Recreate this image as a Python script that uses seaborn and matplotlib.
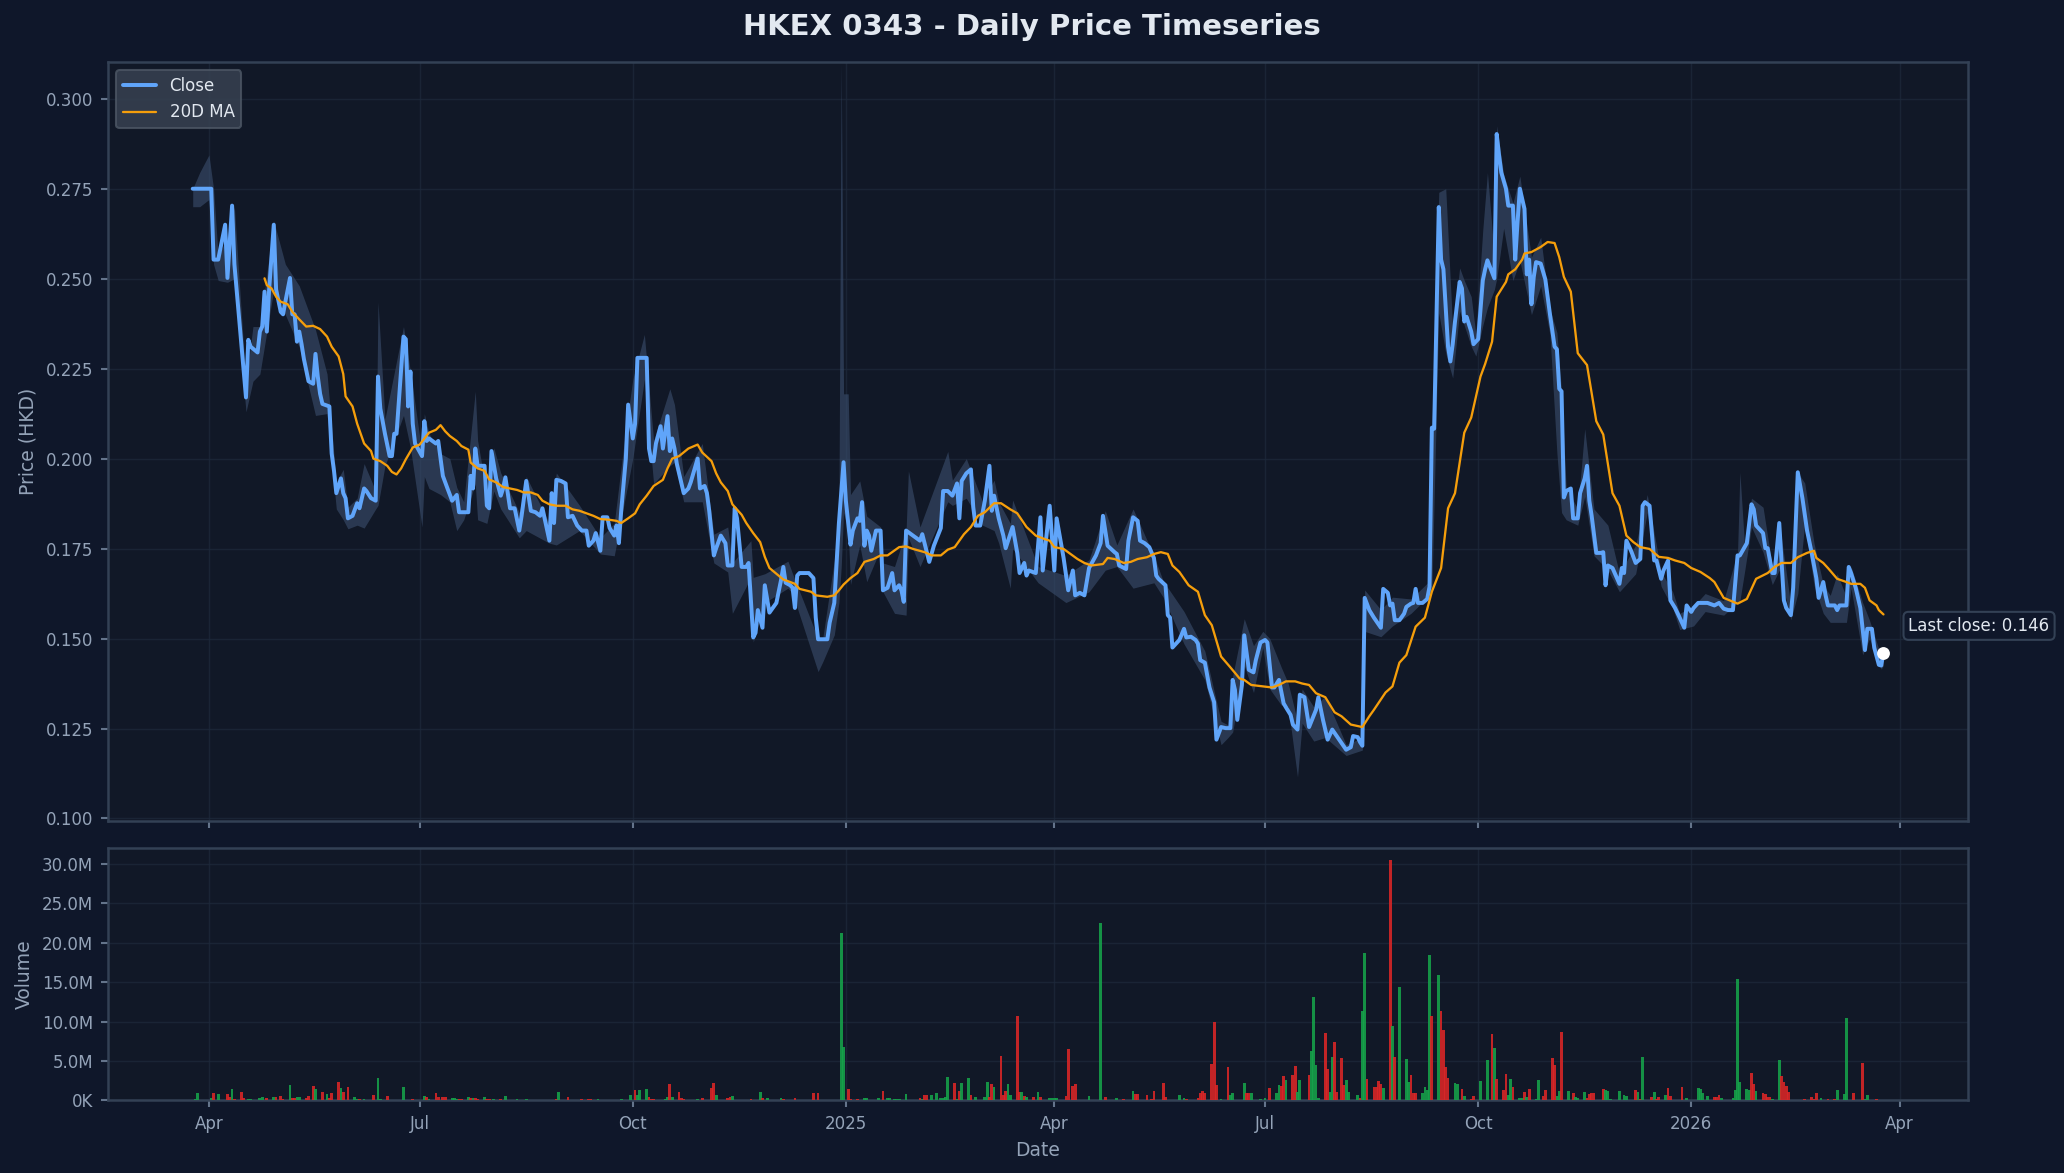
import numpy as np
import pandas as pd
import matplotlib
matplotlib.use("Agg")
import matplotlib.pyplot as plt
import matplotlib.dates as mdates
from matplotlib.ticker import FuncFormatter
import seaborn as sns

# ---------------- data (day offsets from 2024-04-01) ----------------
BASE = pd.Timestamp("2024-04-01")
TITLE = "HKEX 0343 - Daily Price Timeseries"

close_obs = [
    (-7, 0.275), (1, 0.275), (2, 0.2553), (4, 0.2553), (7, 0.265), (8, 0.2502), (10, 0.2703), (11, 0.254),
    (16, 0.217), (17, 0.233), (18, 0.2311), (21, 0.2295), (22, 0.2353), (23, 0.2367), (24, 0.2464), (25, 0.2353),
    (26, 0.247), (28, 0.265), (29, 0.247), (31, 0.2408), (32, 0.2401), (33, 0.2436), (35, 0.2502), (36, 0.2401),
    (37, 0.2401), (38, 0.2325), (39, 0.2353), (40, 0.2318), (41, 0.2277), (43, 0.2215), (45, 0.2208), (46, 0.2291),
    (47, 0.2228), (48, 0.218), (49, 0.2152), (52, 0.2145), (53, 0.2014), (54, 0.1966), (55, 0.1904), (57, 0.1945),
    (58, 0.1904), (59, 0.189), (60, 0.1834), (62, 0.1841), (64, 0.1876), (65, 0.1862), (67, 0.1917), (68, 0.191),
    (70, 0.189), (72, 0.1883), (73, 0.2228), (74, 0.2139), (76, 0.2069), (78, 0.2007), (79, 0.2007), (80, 0.2069),
    (81, 0.2069), (84, 0.2339), (85, 0.2332), (86, 0.2145), (87, 0.2242), (88, 0.2097), (89, 0.2042), (92, 0.2007),
    (93, 0.2104), (94, 0.2049), (95, 0.2056), (98, 0.2042), (99, 0.2049),
    (101, 0.1952), (103, 0.1917), (105, 0.1883), (107, 0.1899), (108, 0.1851), (112, 0.1851), (113, 0.1952),
    (114, 0.1917), (115, 0.2028), (116, 0.198), (119, 0.198), (120, 0.1869), (121, 0.1862), (122, 0.2021),
    (124, 0.1945), (126, 0.1897), (127, 0.1917), (128, 0.1948), (130, 0.1862), (132, 0.1862), (134, 0.18),
    (135, 0.1841), (137, 0.1938), (139, 0.1855), (141, 0.1851), (143, 0.1841), (144, 0.1862), (147, 0.1772),
    (148, 0.1904), (149, 0.1821), (150, 0.1941), (152, 0.1938), (154, 0.1931), (155, 0.1837), (157, 0.1841),
    (159, 0.1814), (161, 0.18), (163, 0.18), (164, 0.1758), (166, 0.1772), (167, 0.1793), (169, 0.1744),
    (170, 0.1837), (172, 0.1837), (173, 0.1807), (175, 0.1786), (176, 0.1814), (177, 0.1765), (178, 0.1855),
    (180, 0.2), (181, 0.215), (183, 0.2056), (184, 0.2097), (185, 0.228), (189, 0.228), (190, 0.2028),
    (191, 0.1993), (192, 0.1993), (193, 0.2042), (195, 0.209), (196, 0.2028), (198, 0.2118), (199, 0.2021),
    (200, 0.2056), (201, 0.2028), (202, 0.1986), (205, 0.1904), (207, 0.1917), (208, 0.1934), (211, 0.2),
    (212, 0.1917), (214, 0.1924), (215, 0.1904), (216, 0.1855), (218, 0.1731), (219, 0.1751), (221, 0.1786),
    (223, 0.1765), (224, 0.1703), (226, 0.1703), (227, 0.1862), (228, 0.1834), (230, 0.1699), (232, 0.1699),
    (233, 0.171), (235, 0.1503), (236, 0.1516), (237, 0.1579), (239, 0.153), (240, 0.1648), (242, 0.1572),
    (245, 0.1599), (247, 0.1662), (248, 0.1699), (249, 0.1655), (251, 0.1648), (252, 0.1641), (253, 0.1585),
    (254, 0.1675), (255, 0.1682),
    (259, 0.1682), (261, 0.1668), (262, 0.1558), (263, 0.1498), (267, 0.1498), (268, 0.1544), (270, 0.1599),
    (272, 0.1821), (274, 0.199), (275, 0.1883), (277, 0.1761), (278, 0.18), (280, 0.1834), (281, 0.1827),
    (282, 0.1879), (283, 0.1758), (284, 0.18), (285, 0.1786), (286, 0.1744), (288, 0.18), (290, 0.18),
    (291, 0.1634), (293, 0.1641), (295, 0.1682), (296, 0.1634), (298, 0.1648), (299, 0.1634), (300, 0.1602),
    (301, 0.18), (304, 0.1786), (307, 0.1772), (308, 0.179), (311, 0.1713), (313, 0.1758), (316, 0.1807),
    (317, 0.191), (319, 0.191), (321, 0.1897), (323, 0.1931), (324, 0.1834), (325, 0.1938), (327, 0.1959),
    (329, 0.197), (330, 0.1865), (331, 0.1814), (333, 0.1814), (335, 0.1883), (337, 0.198), (338, 0.1855),
    (339, 0.1897), (341, 0.1834), (343, 0.1786), (344, 0.1751), (347, 0.181), (349, 0.1738), (350, 0.1682),
    (352, 0.171), (353, 0.1675), (354, 0.1689), (357, 0.1682), (359, 0.1837), (360, 0.1689), (362, 0.181),
    (363, 0.1869), (365, 0.1689), (366, 0.1834), (369, 0.1724), (371, 0.1634), (373, 0.1689), (374, 0.162),
    (376, 0.1627), (378, 0.162), (380, 0.1696), (383, 0.1731), (385, 0.1765), (386, 0.1841), (388, 0.1758),
    (391, 0.174), (392, 0.1735), (393, 0.1703), (396, 0.1693), (397, 0.1772), (399, 0.1837), (401, 0.1827),
    (402, 0.1772),
    (404, 0.1765), (406, 0.1754), (408, 0.1724), (409, 0.1675), (410, 0.1666), (413, 0.1648), (414, 0.1565),
    (415, 0.1558), (416, 0.1475), (419, 0.1496), (421, 0.1527), (422, 0.1503), (424, 0.1505), (426, 0.1496),
    (427, 0.1486), (428, 0.144), (430, 0.1433), (432, 0.1364), (434, 0.1323), (435, 0.1219), (437, 0.1254),
    (439, 0.1251), (441, 0.1251), (442, 0.1385), (443, 0.1357), (444, 0.1274), (446, 0.1371), (447, 0.1509),
    (449, 0.1413), (451, 0.1406), (452, 0.144), (454, 0.1489), (456, 0.1496), (457, 0.1489), (459, 0.1364),
    (460, 0.1364), (462, 0.1385), (464, 0.132), (465, 0.1309), (467, 0.1288), (468, 0.1261), (470, 0.1247),
    (471, 0.1344), (473, 0.1337), (475, 0.1254), (478, 0.1302), (479, 0.1337), (481, 0.1274), (483, 0.1219),
    (485, 0.1247), (488, 0.1219), (491, 0.1191), (493, 0.1198), (494, 0.1229), (496, 0.1226), (497, 0.1212),
    (498, 0.1202), (499, 0.1613), (501, 0.1579), (503, 0.1558), (506, 0.153), (507, 0.1638), (509, 0.1627),
    (510, 0.1592), (511, 0.1597), (512, 0.1551), (514, 0.1551), (516, 0.1569), (517, 0.1588), (519, 0.1597),
    (520, 0.1599), (521, 0.1638), (522, 0.1599), (524, 0.1599), (526, 0.161), (527, 0.1644), (528, 0.2086),
    (529, 0.2083), (531, 0.2699), (532, 0.2553), (533, 0.2526), (535, 0.2311), (536, 0.227), (537, 0.2318),
    (538, 0.2381), (540, 0.2491), (541, 0.2473), (542, 0.2381), (543, 0.2394), (545, 0.2353), (546, 0.2318),
    (548, 0.2332),
    (550, 0.2495), (551, 0.2526), (552, 0.2551), (555, 0.2501), (556, 0.2902), (557, 0.2844), (558, 0.2795),
    (560, 0.275), (561, 0.2703), (563, 0.2703), (564, 0.2553), (565, 0.2657), (566, 0.275), (568, 0.2694),
    (569, 0.2512), (570, 0.2553), (571, 0.2429), (572, 0.2505), (573, 0.2546), (575, 0.2542), (577, 0.2498),
    (579, 0.2401), (581, 0.2311), (582, 0.2304), (583, 0.2194), (584, 0.2187), (585, 0.1892), (586, 0.191),
    (588, 0.1917), (589, 0.1834), (591, 0.1834), (592, 0.1904), (594, 0.1945), (595, 0.198), (596, 0.1883),
    (597, 0.1841), (599, 0.1738), (601, 0.1738), (602, 0.174), (603, 0.1648), (604, 0.1703), (606, 0.1696),
    (609, 0.1652), (610, 0.1696), (611, 0.1682), (612, 0.1772), (614, 0.1744), (616, 0.171), (618, 0.1721),
    (619, 0.1869), (620, 0.1879), (622, 0.1869), (624, 0.1717), (625, 0.1717), (627, 0.1666), (628, 0.1689),
    (630, 0.1717), (631, 0.1606), (633, 0.1585), (635, 0.1558), (637, 0.153), (638, 0.1592), (640, 0.1574),
    (641, 0.1585), (643, 0.1599), (647, 0.1599), (650, 0.1592), (652, 0.1599), (654, 0.1583), (656, 0.1579),
    (658, 0.1579), (660, 0.1731), (661, 0.1731), (664, 0.1765), (666, 0.1873), (667, 0.1859), (668, 0.1814),
    (671, 0.1793), (672, 0.1751), (673, 0.1751), (675, 0.1682), (676, 0.1682), (678, 0.1821), (680, 0.1606),
    (681, 0.1585), (683, 0.1565), (684, 0.1641), (686, 0.1962), (688, 0.189), (690, 0.18), (692, 0.1738),
    (694, 0.1668), (695, 0.1613), (697, 0.1657), (698, 0.162), (699, 0.1592), (702, 0.1592), (703, 0.1579),
    (704, 0.1592), (707, 0.1592), (708, 0.1699), (709, 0.1682), (711, 0.1641), (713, 0.1585), (715, 0.1468),
    (716, 0.1527), (718, 0.1527), (719, 0.1475), (721, 0.1427), (722, 0.1425), (723, 0.146),
]

ma_obs = [
    (24, 0.2501), (25, 0.2482), (27, 0.2473), (29, 0.245), (31, 0.2436), (34, 0.2429), (36, 0.2408), (39, 0.2387),
    (42, 0.2367), (45, 0.2369), (48, 0.236), (51, 0.2339), (53, 0.2311), (56, 0.2284), (58, 0.2235), (59, 0.2173),
    (62, 0.2145), (64, 0.2097), (67, 0.2042), (70, 0.2021), (71, 0.2), (74, 0.1993), (77, 0.198), (79, 0.1963),
    (81, 0.1956), (83, 0.1973), (85, 0.1998), (88, 0.2031), (91, 0.2039), (95, 0.2072), (98, 0.208), (100, 0.2093),
    (102, 0.2076), (104, 0.2063), (107, 0.2049), (109, 0.2035), (112, 0.2025), (113, 0.1989), (116, 0.1973),
    (119, 0.1966), (121, 0.1942), (124, 0.1934), (127, 0.1921), (133, 0.1913), (136, 0.1906), (139, 0.1906),
    (142, 0.1899), (144, 0.1883), (147, 0.1873), (150, 0.1869), (154, 0.1869), (157, 0.1859), (160, 0.1855),
    (163, 0.1848), (166, 0.1841), (169, 0.1832), (173, 0.183), (176, 0.1827), (178, 0.1821), (181, 0.1834),
    (184, 0.1848), (186, 0.1873), (189, 0.1897), (192, 0.1924), (196, 0.1941), (198, 0.1973), (200, 0.2),
    (203, 0.2007), (207, 0.2028), (211, 0.2039), (213, 0.2017), (217, 0.1993), (219, 0.1959), (221, 0.1934),
    (224, 0.191), (226, 0.1873), (230, 0.1844), (232, 0.1821), (235, 0.1793), (238, 0.1768), (240, 0.1727),
    (242, 0.1696), (245, 0.168), (248, 0.1664), (251, 0.1657), (253, 0.1652), (255, 0.1638), (260, 0.163),
    (262, 0.162), (267, 0.1616), (270, 0.162), (272, 0.1634), (274, 0.165), (277, 0.1668), (280, 0.1682),
    (283, 0.1713), (287, 0.1721), (290, 0.1731), (293, 0.1731), (298, 0.1754), (301, 0.1756), (304, 0.1749),
    (309, 0.174), (312, 0.1731), (316, 0.1731), (319, 0.1747), (322, 0.1754), (326, 0.179), (329, 0.181),
    (332, 0.1841), (335, 0.1851), (339, 0.1876), (342, 0.1876), (346, 0.1859), (349, 0.1848), (353, 0.181),
    (357, 0.1786), (361, 0.1776), (363, 0.1772), (365, 0.1754), (369, 0.1749), (372, 0.1735), (375, 0.1721),
    (378, 0.171), (381, 0.1703), (386, 0.1707), (388, 0.1724), (391, 0.1721), (395, 0.171), (398, 0.1713),
    (401, 0.1721), (405, 0.1726), (408, 0.1735), (411, 0.174), (414, 0.1735), (416, 0.1703), (419, 0.1685),
    (423, 0.1648), (427, 0.163), (430, 0.1565), (433, 0.1537), (437, 0.145), (441, 0.142), (445, 0.1389),
    (447, 0.1385), (450, 0.1371), (455, 0.1367), (459, 0.1364), (462, 0.1371), (465, 0.1381), (469, 0.1381),
    (472, 0.1375), (475, 0.1371), (478, 0.1348), (482, 0.1337), (486, 0.1295), (489, 0.1284), (493, 0.1261),
    (498, 0.1254), (501, 0.1284), (503, 0.1302), (508, 0.135), (511, 0.1367), (514, 0.1433), (517, 0.1454),
    (521, 0.1533), (525, 0.1558), (528, 0.163), (532, 0.1696), (535, 0.1862), (538, 0.1904), (542, 0.2072),
    (545, 0.2114), (549, 0.2228), (551, 0.2263), (554, 0.2325), (556, 0.245), (560, 0.2491), (561, 0.2512),
    (564, 0.2526), (567, 0.2553), (568, 0.257), (571, 0.2574), (575, 0.2588), (578, 0.2602), (581, 0.2599),
    (583, 0.256), (585, 0.2505), (588, 0.2464), (591, 0.2293), (595, 0.226), (599, 0.2104), (602, 0.2067),
    (606, 0.1904), (609, 0.1869), (612, 0.1786), (615, 0.1768), (618, 0.1754), (622, 0.1749), (626, 0.1727),
    (630, 0.1724), (633, 0.1717), (637, 0.171), (640, 0.1696), (644, 0.1685), (648, 0.1668), (650, 0.1657),
    (654, 0.1613), (660, 0.1597), (664, 0.161), (668, 0.1666), (673, 0.1682), (676, 0.1699), (679, 0.171),
    (683, 0.171), (686, 0.1726), (690, 0.1738), (693, 0.1744), (694, 0.1724), (697, 0.171), (699, 0.1696),
    (703, 0.1666), (707, 0.1657), (709, 0.1652), (713, 0.1652), (715, 0.1641), (717, 0.1606), (720, 0.1592),
    (721, 0.1579), (723, 0.1567),
]

# (day, low, high) envelope of the daily range
band_obs = [
    (-7, 0.270, 0.275), (-4, 0.270, 0.2795), (0, 0.272, 0.2844), (2, 0.254, 0.275), (4, 0.2495, 0.256),
    (8, 0.249, 0.262), (11, 0.250, 0.270), (13, 0.235, 0.250), (16, 0.213, 0.221), (19, 0.2215, 0.2367),
    (22, 0.2235, 0.2367), (28, 0.247, 0.266), (33, 0.240, 0.254), (39, 0.231, 0.248), (46, 0.212, 0.2358),
    (51, 0.2125, 0.2235), (55, 0.186, 0.1935), (58, 0.183, 0.197), (60, 0.1805, 0.1865), (64, 0.1815, 0.189),
    (67, 0.1807, 0.1986), (72, 0.186, 0.191), (73, 0.187, 0.2435), (76, 0.198, 0.211), (84, 0.212, 0.2367),
    (87, 0.203, 0.2242), (92, 0.181, 0.2014), (93, 0.195, 0.2125), (95, 0.1917, 0.207), (100, 0.190, 0.2014),
    (104, 0.188, 0.200), (107, 0.180, 0.192), (110, 0.183, 0.188), (115, 0.193, 0.2187), (116, 0.183, 0.205),
    (120, 0.182, 0.190), (123, 0.191, 0.203), (126, 0.186, 0.196), (134, 0.178, 0.185), (137, 0.180, 0.195),
    (147, 0.1765, 0.182), (150, 0.176, 0.196), (160, 0.180, 0.187), (169, 0.1735, 0.178), (175, 0.173, 0.182),
    (180, 0.190, 0.2083), (183, 0.200, 0.222), (188, 0.222, 0.2345), (192, 0.193, 0.205), (199, 0.198, 0.2194),
    (201, 0.199, 0.215), (205, 0.188, 0.195), (213, 0.188, 0.2042), (218, 0.171, 0.179), (224, 0.1685, 0.181),
    (226, 0.157, 0.171), (234, 0.167, 0.1772), (235, 0.149, 0.167), (240, 0.160, 0.168), (250, 0.164, 0.1715),
    (252, 0.1625, 0.168), (263, 0.1408, 0.150), (265, 0.1435, 0.150), (270, 0.151, 0.1717), (272, 0.160, 0.185),
    (273, 0.170, 0.310), (274, 0.185, 0.218), (276, 0.180, 0.218), (277, 0.165, 0.190), (281, 0.176, 0.1938),
    (284, 0.1658, 0.184), (290, 0.175, 0.181), (291, 0.163, 0.171), (296, 0.157, 0.170), (301, 0.1565, 0.180),
    (302, 0.178, 0.1966), (307, 0.170, 0.181), (319, 0.188, 0.202), (321, 0.187, 0.194), (327, 0.189, 0.200),
    (334, 0.1815, 0.188), (339, 0.180, 0.194), (341, 0.1765, 0.188), (346, 0.164, 0.182), (347, 0.175, 0.1885),
    (358, 0.1655, 0.170), (370, 0.160, 0.1675), (380, 0.163, 0.1719), (387, 0.169, 0.1855), (392, 0.170, 0.176),
    (399, 0.164, 0.186), (408, 0.1655, 0.173), (412, 0.1615, 0.166), (421, 0.1485, 0.1575), (430, 0.1385, 0.1465),
    (437, 0.1205, 0.127), (440, 0.1225, 0.126), (442, 0.124, 0.1395), (447, 0.1425, 0.1555), (451, 0.135, 0.148),
    (455, 0.1475, 0.152), (458, 0.136, 0.150), (463, 0.1315, 0.142), (466, 0.131, 0.1375), (470, 0.1115, 0.127),
    (472, 0.1265, 0.136), (477, 0.1215, 0.131), (482, 0.1225, 0.134), (491, 0.1175, 0.1205), (498, 0.119, 0.1225),
    (499, 0.152, 0.1635), (506, 0.1505, 0.158), (511, 0.1535, 0.1615), (519, 0.157, 0.161), (527, 0.162, 0.166),
    (528, 0.163, 0.2083), (531, 0.2405, 0.274), (534, 0.2293, 0.275), (537, 0.2224, 0.236), (540, 0.241, 0.253),
    (542, 0.237, 0.2495), (545, 0.2312, 0.245), (547, 0.2285, 0.2345), (550, 0.237, 0.2636), (552, 0.242, 0.2795),
    (555, 0.247, 0.256), (556, 0.250, 0.2925), (559, 0.264, 0.279), (563, 0.2495, 0.271), (566, 0.255, 0.2785),
    (571, 0.240, 0.256), (575, 0.248, 0.2615), (579, 0.2345, 0.2415), (582, 0.2015, 0.235), (584, 0.185, 0.2187),
    (586, 0.183, 0.192), (591, 0.1815, 0.186), (594, 0.1895, 0.2083), (598, 0.173, 0.186), (604, 0.169, 0.1815),
    (609, 0.163, 0.168), (616, 0.168, 0.176), (621, 0.185, 0.190), (627, 0.1645, 0.1685), (632, 0.1585, 0.163),
    (635, 0.1525, 0.157), (641, 0.1535, 0.159), (646, 0.1575, 0.1625), (654, 0.1565, 0.1605), (660, 0.160, 0.174),
    (661, 0.1605, 0.1962), (663, 0.1685, 0.176), (666, 0.181, 0.189), (671, 0.174, 0.1865), (675, 0.165, 0.170),
    (678, 0.169, 0.1825), (683, 0.1552, 0.159), (686, 0.1625, 0.1962), (689, 0.182, 0.1932), (693, 0.1648, 0.1765),
    (697, 0.157, 0.165), (700, 0.1545, 0.162), (703, 0.1545, 0.168), (707, 0.1545, 0.1615), (709, 0.164, 0.170),
    (714, 0.1455, 0.160), (717, 0.150, 0.155), (722, 0.1415, 0.145), (723, 0.1425, 0.1475),
]

# (day, volume in millions, 1 = up day / 0 = down day)
volume_obs = [
    (-6, 0.13, 1), (-5, 0.89, 1), (1, 0.25, 1), (2, 0.89, 0), (4, 0.76, 1), (8, 0.80, 0), (9, 0.47, 0), (10, 1.44, 1),
    (11, 0.13, 0), (14, 1.02, 0), (15, 0.25, 0), (17, 0.17, 1), (18, 0.17, 1), (22, 0.34, 1), (23, 0.38, 1),
    (25, 0.25, 0), (28, 0.38, 1), (29, 0.38, 0), (31, 0.51, 0), (32, 0.17, 0), (35, 1.91, 1), (36, 0.30, 0),
    (37, 0.30, 0), (38, 0.38, 1), (39, 0.38, 1), (42, 0.34, 0), (43, 0.51, 0), (45, 1.78, 0), (46, 1.40, 1),
    (49, 1.06, 0), (51, 0.80, 1), (52, 0.25, 0), (53, 0.89, 0), (56, 2.29, 0), (57, 1.53, 1), (58, 1.02, 0),
    (60, 1.65, 0), (63, 0.38, 1), (64, 0.21, 1), (65, 0.13, 0), (67, 0.17, 1), (71, 0.64, 0), (73, 2.80, 1),
    (74, 0.13, 1), (77, 0.51, 0), (84, 1.65, 1), (88, 0.13, 0), (93, 0.51, 1), (94, 0.38, 0), (95, 0.13, 1),
    (98, 0.89, 0), (99, 0.38, 0), (101, 0.38, 0), (102, 0.38, 0), (105, 0.25, 1), (106, 0.25, 1), (107, 0.17, 1),
    (108, 0.17, 0), (109, 0.17, 0), (112, 0.38, 1), (113, 0.25, 0), (114, 0.25, 1), (115, 0.25, 0), (116, 0.17, 0),
    (119, 0.38, 1), (120, 0.17, 0), (121, 0.13, 0), (123, 0.17, 1), (126, 0.17, 0), (128, 0.51, 1), (133, 0.17, 1),
    (137, 0.17, 1), (144, 0.08, 1), (150, 0.13, 0), (151, 1.02, 1), (155, 0.38, 0), (161, 0.17, 0), (164, 0.17, 0),
    (165, 0.17, 0), (168, 0.17, 1), (175, 0.08, 1), (178, 0.17, 1), (182, 0.64, 1), (184, 1.31, 0), (185, 0.64, 1),
    (186, 1.31, 1), (189, 1.44, 1), (190, 0.38, 0), (191, 0.17, 0), (192, 0.17, 0), (197, 0.17, 1), (198, 0.38, 1),
    (199, 2.03, 0), (200, 0.38, 1), (203, 1.02, 0), (204, 0.30, 0), (205, 0.17, 0), (211, 0.17, 1), (213, 0.25, 0),
    (217, 1.57, 0), (218, 2.16, 0), (219, 0.64, 1), (224, 0.25, 0), (225, 0.38, 0), (226, 0.51, 1), (234, 0.17, 0),
    (238, 1.02, 1), (239, 0.25, 0), (241, 0.25, 1), (247, 0.25, 1), (248, 0.17, 0), (253, 0.25, 0), (254, 0.08, 0),
    (261, 0.89, 0), (263, 0.89, 0), (273, 21.2, 1), (274, 6.74, 1), (276, 1.40, 0), (277, 0.17, 0), (280, 0.17, 0),
    (283, 0.25, 1), (284, 0.25, 1), (289, 0.25, 1), (291, 1.14, 0), (293, 0.25, 1), (294, 0.25, 1), (296, 0.17, 1),
    (297, 0.17, 1), (298, 0.17, 1), (301, 0.76, 1), (307, 0.25, 0), (308, 0.17, 1), (309, 0.64, 0), (310, 0.64, 0),
    (312, 0.64, 1), (314, 0.89, 1), (316, 0.30, 1), (317, 0.30, 1), (318, 0.38, 1), (319, 3.01, 1), (322, 2.16, 0),
    (323, 0.17, 1), (324, 1.14, 0), (325, 2.16, 1), (328, 2.80, 1), (329, 0.64, 0), (331, 0.47, 1), (335, 0.38, 1),
    (336, 2.29, 1), (337, 0.38, 0), (338, 2.03, 0), (339, 1.65, 1), (342, 5.59, 0), (343, 0.64, 0), (344, 1.14, 0),
    (345, 2.03, 1), (346, 0.64, 1), (349, 10.68, 0), (350, 1.02, 0), (351, 1.02, 1), (352, 0.51, 0), (353, 0.38, 1),
    (356, 0.38, 0), (358, 1.02, 1), (359, 0.38, 0), (363, 0.25, 1), (364, 0.25, 1), (365, 0.25, 1), (366, 0.25, 1),
    (370, 0.51, 0), (371, 6.48, 0), (373, 1.78, 0), (374, 2.03, 0), (380, 0.51, 1), (385, 22.5, 1), (387, 0.38, 0),
    (392, 0.25, 1), (395, 0.17, 0), (399, 1.14, 1), (400, 0.76, 0), (401, 0.76, 0), (405, 0.64, 0), (407, 0.17, 0),
    (408, 1.14, 0), (412, 2.16, 0), (413, 0.38, 0), (419, 0.64, 1), (421, 0.25, 1), (422, 0.17, 0), (427, 0.25, 0),
    (428, 0.89, 0), (429, 1.14, 0), (430, 0.89, 0), (433, 4.62, 0), (434, 9.92, 0), (435, 1.91, 0), (437, 0.17, 1),
    (440, 4.19, 0), (441, 0.64, 1), (442, 0.89, 1), (447, 2.16, 1), (448, 0.89, 0), (449, 0.89, 0), (450, 0.89, 1),
    (454, 0.17, 1), (456, 0.25, 1), (458, 1.53, 0), (461, 0.89, 1), (462, 1.91, 1), (463, 1.78, 0), (464, 3.05, 0),
    (465, 2.54, 1), (468, 3.18, 0), (469, 4.32, 0), (470, 1.02, 1), (471, 2.54, 1), (475, 3.18, 0), (476, 6.23, 1),
    (477, 13.09, 1), (478, 4.45, 1), (479, 0.25, 1), (482, 8.52, 0), (483, 3.94, 0), (484, 1.02, 1), (485, 5.47, 1),
    (486, 7.37, 0), (487, 1.02, 0), (489, 5.34, 0), (490, 1.91, 0), (491, 2.54, 1), (492, 1.02, 1), (496, 0.64, 1),
    (497, 0.25, 0), (498, 11.31, 1), (499, 18.69, 1), (500, 2.67, 0), (503, 1.65, 0), (504, 1.65, 0), (505, 2.42, 0),
    (506, 2.03, 0), (507, 1.53, 1), (510, 30.55, 0), (511, 9.45, 1), (512, 5.47, 0), (514, 14.41, 1), (517, 5.21, 1),
    (518, 2.29, 1), (519, 3.18, 0), (520, 0.89, 0), (521, 0.89, 0), (524, 0.89, 1), (525, 1.65, 1), (526, 1.27, 1),
    (527, 18.43, 1), (528, 10.68, 0), (531, 15.89, 1), (532, 11.31, 0), (533, 8.90, 0), (534, 4.19, 0), (535, 2.80, 0),
    (538, 2.16, 1), (539, 2.03, 1), (541, 1.40, 0), (542, 0.51, 1), (545, 0.17, 0), (546, 0.51, 0),
    (549, 2.42, 1), (552, 5.08, 1), (554, 8.39, 0), (555, 6.61, 1), (556, 2.67, 0), (559, 1.27, 0), (560, 3.31, 0),
    (561, 0.64, 1), (562, 2.67, 1), (563, 1.65, 0), (566, 0.25, 1), (567, 0.25, 1), (568, 1.02, 0), (569, 0.38, 1),
    (570, 1.40, 0), (573, 0.17, 1), (574, 2.54, 1), (576, 0.51, 0), (577, 1.27, 0), (580, 5.34, 0), (581, 4.45, 0),
    (582, 0.51, 1), (583, 1.14, 1), (584, 8.64, 0), (587, 1.14, 1), (589, 0.89, 0), (590, 0.38, 1), (591, 0.25, 1),
    (594, 1.02, 1), (595, 0.25, 0), (596, 0.76, 0), (597, 0.89, 0), (598, 0.89, 0), (602, 1.40, 0), (603, 1.27, 1),
    (604, 1.14, 1), (605, 0.17, 1), (609, 1.14, 1), (611, 0.64, 1), (612, 0.51, 1), (616, 1.27, 0), (617, 1.02, 1),
    (618, 0.13, 0), (619, 5.47, 1), (623, 0.38, 0), (624, 1.02, 1), (625, 0.17, 0), (626, 0.38, 0), (629, 0.64, 1),
    (630, 1.53, 0), (631, 0.51, 0), (636, 1.65, 0), (638, 0.25, 1), (643, 1.53, 1), (644, 1.40, 1), (645, 0.89, 1),
    (647, 0.51, 1), (650, 0.38, 0), (651, 0.38, 0), (652, 0.64, 0), (653, 0.25, 1), (658, 0.25, 1), (659, 1.27, 1),
    (660, 15.38, 1), (661, 2.29, 1), (664, 1.40, 1), (665, 1.27, 1), (666, 3.43, 0), (667, 2.03, 0), (668, 1.14, 1),
    (671, 0.89, 0), (672, 0.76, 0), (673, 0.38, 0), (674, 0.38, 0), (675, 0.13, 1), (678, 5.08, 1), (679, 3.05, 0),
    (680, 2.29, 0), (681, 1.78, 0), (682, 1.02, 0), (685, 0.08, 1), (689, 0.17, 0), (692, 0.38, 0), (693, 0.17, 0),
    (694, 0.89, 0), (696, 0.25, 1), (699, 0.17, 0), (702, 0.13, 0), (703, 1.27, 1), (706, 0.76, 1), (707, 10.42, 1),
    (710, 0.89, 0), (714, 4.70, 0), (715, 0.17, 1), (716, 0.64, 1), (720, 0.13, 0), (722, 0.08, 1),
]

price_ticks = [0.100, 0.125, 0.150, 0.175, 0.200, 0.225, 0.250, 0.275, 0.300]
volume_ticks_m = [0, 5, 10, 15, 20, 25, 30]

# ---------------- frames ----------------
def to_dates(days):
    return BASE + pd.to_timedelta(np.asarray(days, dtype=float), unit="D")

df_close = pd.DataFrame(close_obs, columns=["day", "close"])
df_close["date"] = to_dates(df_close["day"])
df_ma = pd.DataFrame(ma_obs, columns=["day", "ma"])
df_ma["date"] = to_dates(df_ma["day"])
df_band = pd.DataFrame(band_obs, columns=["day", "low", "high"])
df_band["date"] = to_dates(df_band["day"])
df_vol = pd.DataFrame(volume_obs, columns=["day", "vol_m", "up"])
df_vol["date"] = to_dates(df_vol["day"])
df_vol["volume"] = df_vol["vol_m"] * 1e6

# ---------------- style ----------------
FIG_BG = "#0f172a"
AX_BG = "#111827"
GRID = "#1e293b"
SPINE = "#334155"
TICK_TXT = "#94a3b8"
TITLE_TXT = "#e2e8f0"
C_CLOSE = "#60a5fa"
C_MA = "#f59e0b"
C_UP = "#16a34a"
C_DN = "#dc2626"

sns.set_theme(style="dark", rc={
    "figure.facecolor": FIG_BG,
    "axes.facecolor": AX_BG,
    "axes.edgecolor": SPINE,
    "grid.color": GRID,
    "text.color": TITLE_TXT,
    "axes.labelcolor": TICK_TXT,
    "xtick.color": TICK_TXT,
    "ytick.color": TICK_TXT,
})
plt.rcParams["font.family"] = ["DejaVu Sans"]

fig = plt.figure(figsize=(13.76, 7.82), dpi=150, facecolor=FIG_BG)
ax = fig.add_axes([0.0523, 0.3001, 0.9012, 0.6470])
axv = fig.add_axes([0.0523, 0.0620, 0.9012, 0.2154], sharex=ax)

# price panel
ax.fill_between(df_band["date"], df_band["low"], df_band["high"], color="#3b4f6e",
                alpha=0.6, linewidth=0, zorder=1)
sns.lineplot(data=df_close, x="date", y="close", ax=ax, color=C_CLOSE, linewidth=1.9,
             label="Close", zorder=3)
sns.lineplot(data=df_ma, x="date", y="ma", ax=ax, color=C_MA, linewidth=1.1,
             label="20D MA", zorder=4)

last_date = df_close["date"].iloc[-1]
last_val = df_close["close"].iloc[-1]
ax.scatter([last_date], [last_val], s=38, color="white", zorder=6, linewidths=0)
ax.annotate(f"Last close: {last_val:.3f}", xy=(last_date, last_val), xytext=(12, 13),
            textcoords="offset points", ha="left", va="center", fontsize=8, color=TITLE_TXT,
            bbox=dict(boxstyle="round,pad=0.3", fc=FIG_BG, ec=SPINE, lw=1.0), zorder=7)

ax.legend(loc="upper left", fontsize=8, facecolor="#374151", edgecolor="#4b5563",
          framealpha=0.85, labelcolor=TITLE_TXT)

ax.set_ylim(0.0993, 0.3102)
ax.set_yticks(price_ticks)
ax.yaxis.set_major_formatter(FuncFormatter(lambda v, p: f"{v:.3f}"))
ax.set_ylabel("Price (HKD)", fontsize=9, color=TICK_TXT)
ax.set_xlabel("")
ax.tick_params(axis="x", labelbottom=False)

# volume panel
bar_colors = [C_UP if u else C_DN for u in df_vol["up"]]
axv.bar(df_vol["date"], df_vol["volume"], width=1.2, color=bar_colors, alpha=0.88,
        linewidth=0, zorder=3)
axv.set_ylim(0, 32.1e6)
axv.set_yticks([v * 1e6 for v in volume_ticks_m])
axv.yaxis.set_major_formatter(FuncFormatter(
    lambda v, p: f"{v / 1e6:.1f}M" if v >= 1e6 else f"{v / 1e3:.0f}K"))
axv.set_ylabel("Volume", fontsize=9, color=TICK_TXT)
axv.set_xlabel("Date", fontsize=9, color=TICK_TXT)

x0 = mdates.date2num(BASE) - 43.6
x1 = mdates.date2num(BASE) + 759.5
axv.set_xlim(x0, x1)
axv.xaxis.set_major_locator(mdates.MonthLocator(bymonth=[1, 4, 7, 10]))
axv.xaxis.set_major_formatter(FuncFormatter(
    lambda v, p: mdates.num2date(v).strftime("%Y") if mdates.num2date(v).month == 1
    else mdates.num2date(v).strftime("%b")))

for a in (ax, axv):
    a.set_facecolor(AX_BG)
    a.grid(True, color=GRID, linewidth=0.7, alpha=0.75, zorder=0)
    a.set_axisbelow(True)
    for s in a.spines.values():
        s.set_visible(True)
        s.set_color(SPINE)
        s.set_linewidth(1.2)
    a.tick_params(axis="both", which="major", labelsize=8, labelcolor=TICK_TXT,
                  color="#64748b", length=3.5, width=1.0, left=True, bottom=True)

fig.suptitle(TITLE, fontsize=14, fontweight="bold", color=TITLE_TXT, y=0.977, va="center")

fig.savefig("out.png", dpi=150, facecolor=FIG_BG)
